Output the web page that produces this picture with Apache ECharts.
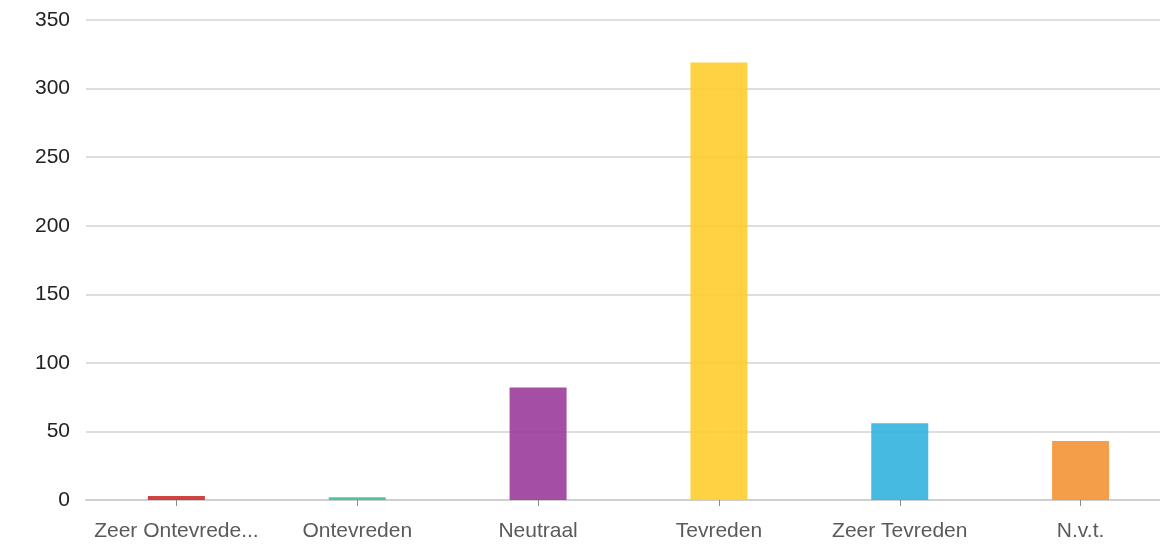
<!DOCTYPE html>
<html>
<head>
<meta charset="utf-8">
<script src="https://cdn.jsdelivr.net/npm/echarts@6/dist/echarts.min.js"></script>
<style>
  html, body { margin: 0; padding: 0; background: #fff; }
  #main { width: 1160px; height: 546px; }
</style>
</head>
<body>
<div id="main"></div>
<script>
var categories = ['Zeer Ontevrede...', 'Ontevreden', 'Neutraal', 'Tevreden', 'Zeer Tevreden', 'N.v.t.'];
var counts = [3, 2, 82, 319, 56, 43];
var barColors = ['#c9302c', '#3dbf9a', '#9b3b9b', '#ffcd30', '#33b2df', '#f39436'];

var chart = echarts.init(document.getElementById('main'));

var option = {
  animation: false,
  grid: { left: 86, right: -11, top: 20, bottom: 46, outerBoundsMode: 'none' },
  xAxis: {
    type: 'category',
    data: categories,
    axisLine: { lineStyle: { color: '#cfcfcf', width: 2 } },
    axisTick: { show: true, alignWithLabel: true, length: 6, lineStyle: { color: '#888' } },
    axisLabel: { color: '#5a5a5a', fontFamily: 'Liberation Sans', fontSize: 21, margin: 21, interval: 0 }
  },
  yAxis: {
    type: 'value',
    min: 0,
    max: 350,
    interval: 50,
    axisLine: { show: false },
    axisTick: { show: false },
    axisLabel: { color: '#222', fontFamily: 'Liberation Sans', fontSize: 21, margin: 16 },
    splitLine: { lineStyle: { color: '#dedede', width: 2 } }
  },
  series: [{
    type: 'bar',
    barWidth: 57,
    data: counts.map(function (v, i) {
      return { value: v, itemStyle: { color: barColors[i], opacity: 0.9 } };
    })
  }]
};

chart.setOption(option);
</script>
</body>
</html>
